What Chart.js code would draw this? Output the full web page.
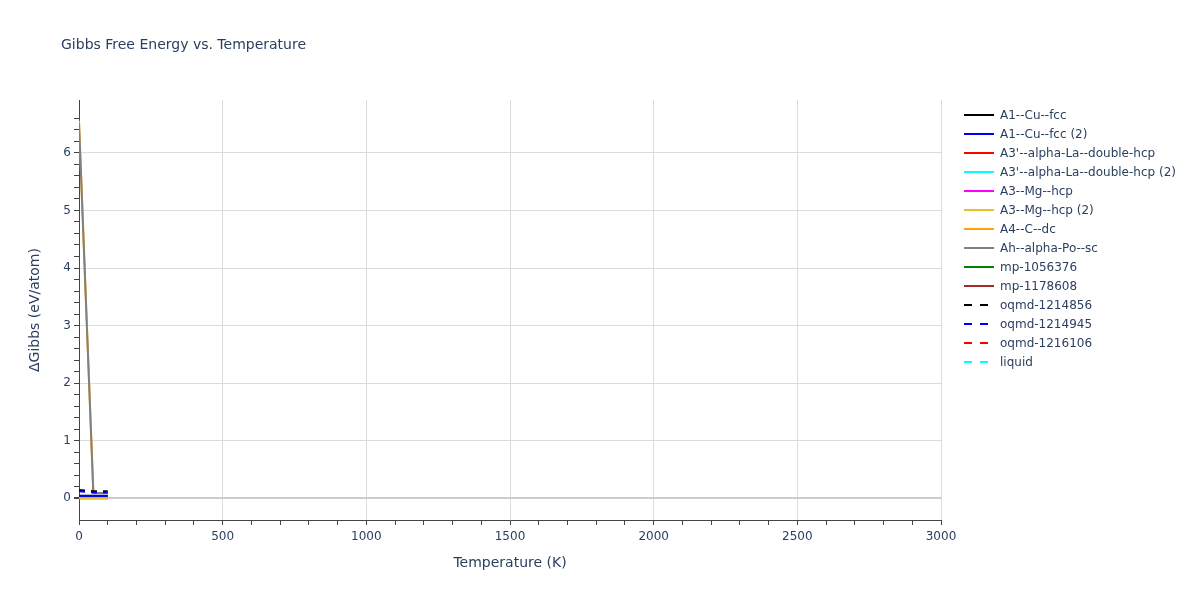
<!DOCTYPE html>
<html lang="en">
<head>
    <meta charset="UTF-8">
    <title>Gibbs Free Energy vs. Temperature</title>
    <script src="https://cdn.jsdelivr.net/npm/chart.js"></script>
    <style>
        body { margin: 0; background: #fff; font-family: "DejaVu Sans", sans-serif; }
        #wrap { position: relative; width: 1200px; height: 600px; }
        #title { position: absolute; left: 61px; top: 36px; font-size: 14px; color: #2a3f5f; }
        #legend { position: absolute; left: 964px; top: 105px; font-size: 12px; color: #2a3f5f; }
        .item { height: 19px; display: flex; align-items: center; }
        .item svg { margin-right: 6px; }
    </style>
</head>
<body>
    <div id="wrap">
        <canvas id="gibbsChart" width="1200" height="600"></canvas>
        <div id="title">Gibbs Free Energy vs. Temperature</div>
        <div id="legend"></div>
    </div>

    <script>
        // Temperatures (K) shared by all phases
        const temps = [0, 50, 100];

        const phaseNames = [
            'A1--Cu--fcc', 'A1--Cu--fcc (2)', "A3'--alpha-La--double-hcp", "A3'--alpha-La--double-hcp (2)",
            'A3--Mg--hcp', 'A3--Mg--hcp (2)', 'A4--C--dc', 'Ah--alpha-Po--sc',
            'mp-1056376', 'mp-1178608', 'oqmd-1214856', 'oqmd-1214945', 'oqmd-1216106', 'liquid'
        ];
        const phaseColors = [
            '#000000', '#0000ff', '#ff0000', '#00ffff', '#ff00ff', '#e8c02a', '#ffa500', '#808080',
            '#008000', '#a52a2a', '#000000', '#0000ff', '#ff0000', '#00ffff'
        ];
        const phaseDashed = [false, false, false, false, false, false, false, false,
            false, false, true, true, true, true];

        // ΔGibbs (eV/atom)
        const cuFcc = [0.04, 0.04, 0.04];
        const cuFcc2 = [0.04, 0.04, 0.04];
        const laDhcp = [0, 0, 0];
        const laDhcp2 = [0, 0, 0];
        const mgHcp = [0, 0, 0];
        const mgHcp2 = [0, 0, 0];
        const cDc = [6.56, 0.09, 0.09];
        const poSc = [6.52, 0.09, 0.09];
        const mp1056376 = [];
        const mp1178608 = [];
        const oqmd1214856 = [0.14, 0.12, 0.12];
        const oqmd1214945 = [0.12, 0.1, 0.1];
        const oqmd1216106 = [];
        const liquid = [];

        const phaseValues = [cuFcc, cuFcc2, laDhcp, laDhcp2, mgHcp, mgHcp2, cDc, poSc,
            mp1056376, mp1178608, oqmd1214856, oqmd1214945, oqmd1216106, liquid];

        // later traces drawn on top, like the original
        const datasets = phaseNames.map((name, i) => ({
            label: name,
            data: phaseValues[i].map((v, j) => ({ x: temps[j], y: v })),
            borderColor: phaseColors[i],
            borderWidth: 2,
            borderDash: phaseDashed[i] ? [6, 6] : [],
            pointRadius: 0,
            fill: false,
            tension: 0,
            order: phaseNames.length - i
        }));

        // legend
        const legend = document.getElementById('legend');
        phaseNames.forEach((name, i) => {
            const row = document.createElement('div');
            row.className = 'item';
            const dash = phaseDashed[i] ? 'stroke-dasharray="8,8"' : '';
            row.innerHTML = `<svg width="30" height="6"><line x1="0" y1="3" x2="30" y2="3" stroke="${phaseColors[i]}" stroke-width="2" ${dash}/></svg><span>${name}</span>`;
            legend.appendChild(row);
        });

        const isMult = (v, s) => Math.abs(v / s - Math.round(v / s)) < 1e-6;
        const fontTick = { family: 'DejaVu Sans', size: 12 };

        new Chart(document.getElementById('gibbsChart'), {
            type: 'line',
            data: { datasets },
            options: {
                responsive: false,
                animation: false,
                layout: { padding: { left: 0, right: 259, top: 100, bottom: 28 } },
                plugins: { legend: { display: false }, tooltip: { enabled: false } },
                scales: {
                    x: {
                        type: 'linear',
                        min: 0,
                        max: 3000,
                        afterBuildTicks: s => { s.ticks = s.ticks.filter(t => isMult(t.value, 100)); },
                        afterFit: s => { s.height = 52; },
                        ticks: {
                            stepSize: 100,
                            autoSkip: false,
                            maxRotation: 0,
                            padding: 5,
                            color: '#2a3f5f',
                            font: fontTick,
                            callback: v => isMult(v, 500) ? v : ''
                        },
                        grid: {
                            color: c => isMult(c.tick.value, 500) && c.tick.value > 0 ? '#dcdcdc' : 'rgba(0,0,0,0)',
                            tickColor: '#444',
                            tickLength: 5
                        },
                        border: { color: '#444', width: 1 },
                        title: {
                            display: true,
                            text: 'Temperature (K)',
                            color: '#2a3f5f',
                            font: { family: 'DejaVu Sans', size: 14 },
                            padding: { top: 10, bottom: 0 }
                        }
                    },
                    y: {
                        type: 'linear',
                        min: -0.38,
                        max: 6.92,
                        afterBuildTicks: s => { s.ticks = s.ticks.filter(t => isMult(t.value, 0.2)); },
                        afterFit: s => { s.width = 79; },
                        ticks: {
                            stepSize: 0.2,
                            autoSkip: false,
                            color: '#2a3f5f',
                            font: fontTick,
                            callback: v => isMult(v, 1) ? Math.round(v) : ''
                        },
                        grid: {
                            color: c => {
                                if (!isMult(c.tick.value, 1)) return 'rgba(0,0,0,0)';
                                return Math.round(c.tick.value) === 0 ? '#cccccc' : '#dcdcdc';
                            },
                            lineWidth: c => Math.round(c.tick.value * 5) === 0 ? 2 : 1,
                            tickColor: '#444',
                            tickLength: 5
                        },
                        border: { color: '#444', width: 1 },
                        title: {
                            display: true,
                            text: 'ΔGibbs (eV/atom)',
                            color: '#2a3f5f',
                            font: { family: 'DejaVu Sans', size: 14 },
                            padding: { top: 27, bottom: 4 }
                        }
                    }
                }
            }
        });
    </script>
</body>
</html>
